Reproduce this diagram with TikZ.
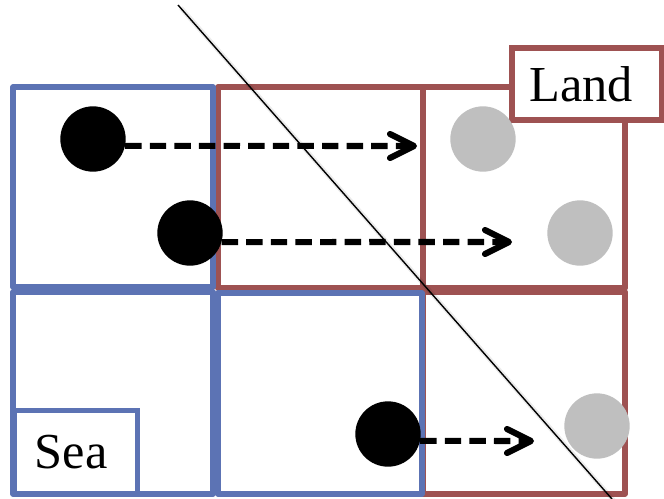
\documentclass[tikz,border=0pt]{standalone}
\usepackage{fontspec}
\setmainfont{Liberation Serif}

\definecolor{seablue}{RGB}{92,115,180}
\definecolor{landred}{RGB}{158,82,82}
\definecolor{dotgrey}{RGB}{191,191,191}

\begin{document}
\begin{tikzpicture}[x=0.03cm,y=-0.03cm]
\tikzstyle{cell}=[line width=4.6pt, line join=round]
\tikzstyle{sea}=[cell, draw=seablue]
\tikzstyle{land}=[cell, draw=landred]
\tikzstyle{main}=[circle, minimum size=19.6mm, inner sep=0pt]
\tikzstyle{before}=[main, fill=black]
\tikzstyle{after}=[main, fill=dotgrey]
\tikzstyle{connect}=[line width=5.2pt, dash pattern=on 14pt off 7pt]
\tikzstyle{barb}=[line width=5.2pt, line cap=round, line join=round]
\tikzstyle{tag}=[rectangle, line width=4.6pt, fill=white, font=\fontsize{43}{50}\selectfont]
\tikzstyle{coast}=[line width=1.2pt, black]
  \useasboundingbox (0,0) rectangle (664,499);
  % cells, land first so the sea edges lie on top
  \draw[land] (218,87) rectangle (423,288);
  \draw[land] (423,87) rectangle (625,288);
  \draw[land] (423,292) rectangle (625,494);
  \draw[sea] (13,87) rectangle (213,287);
  \draw[sea] (13,292) rectangle (213,494);
  \draw[sea] (218,293) rectangle (422,494);

  \node[tag, draw=landred, minimum width=4.5cm, minimum height=2.16cm] (land) at (587,84) [label={[font=\fontsize{43}{50}\selectfont, xshift=-0.17cm]center:Land}] {};
  \node[tag, draw=seablue, minimum width=3.69cm, minimum height=2.49cm] (sea) at (76,452) [label={[font=\fontsize{43}{50}\selectfont, xshift=-0.15cm]center:Sea}] {};

  \node[before] (b1) at (93,139) {};
  \node[before] (b2) at (190,233) {};
  \node[before] (b3) at (388,434) {};
  \node[after] (g1) at (483,139) {};
  \node[after] (g2) at (580,233) {};
  \node[after] (g3) at (597,426) {};

  \coordinate (e1) at (414,146);
  \coordinate (e2) at (509,242);
  \coordinate (e3) at (531,441);
  \path (b1.-12) edge [connect] (e1)
    (b2.-16) edge [connect] (e2)
    (b3.-12) edge [connect] (e3);
  \foreach \e in {e1,e2,e3}
    \draw[barb] ([shift={(-24,-12)}]\e) -- (\e) -- ([shift={(-24,12)}]\e);

  % coastline
  \coordinate (top) at (178,5);
  \coordinate (bottom) at (612,499);
  \draw[line width=4pt, black, opacity=0.08] ([shift={(3,3)}]top) -- ([shift={(3,3)}]bottom);
  \draw[coast] (top) -- (bottom);
\end{tikzpicture}
\end{document}
